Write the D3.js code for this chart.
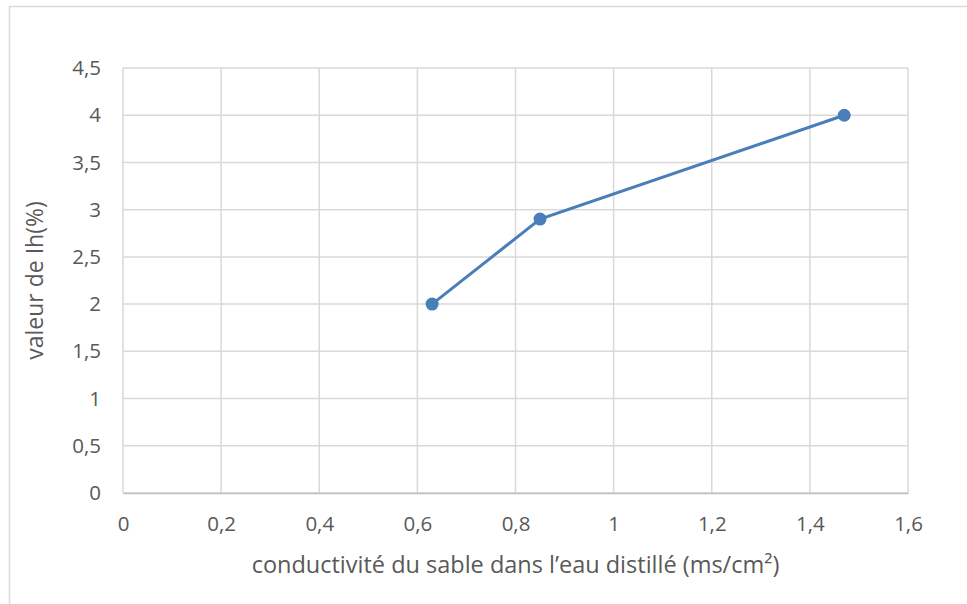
<!DOCTYPE html>
<html>
<head>
<meta charset="utf-8">
<script src="https://cdn.jsdelivr.net/npm/d3@7"></script>
<style>
  body { margin: 0; background: #fff; }
  svg { display: block; font-family: "Open Sans", "Noto Sans", sans-serif; }
</style>
</head>
<body>
<svg id="chart"></svg>
<script>
// conductivité vs Ih
const xValues = [0.63, 0.85, 1.47]
const yValues = [2, 2.9, 4]
const xTicks = [0, 0.2, 0.4, 0.6, 0.8, 1, 1.2, 1.4, 1.6]
const yTicks = [0, 0.5, 1, 1.5, 2, 2.5, 3, 3.5, 4, 4.5]
const xTitle = "conductivité du sable dans l’eau distillé (ms/cm²)"
const yTitle = "valeur de Ih(%)"

let svgWidth = 967
let svgHeight = 604
let margin = { left: 123, top: 68, right: 59, bottom: 111 }
let chartWidth = svgWidth - margin.left - margin.right
let chartHeight = svgHeight - margin.top - margin.bottom

const fmt = d => String(d).replace(".", ",")
const points = xValues.map((x, i) => ({ x: x, y: yValues[i] }))

const svg = d3.select("#chart")
    .attr("width", svgWidth)
    .attr("height", svgHeight)

// cadre extérieur
svg.append("rect")
    .attr("x", 9.5).attr("y", 6.5)
    .attr("width", 980).attr("height", 620)
    .attr("fill", "none")
    .attr("stroke", "#d9d9d9")
    .attr("stroke-width", 1.5)

const g = svg.append("g")
    .attr("transform", `translate(${margin.left}, ${margin.top})`)

var x = d3.scaleLinear().domain([0, 1.6]).range([0, chartWidth])
var y = d3.scaleLinear().domain([0, 4.5]).range([chartHeight, 0])

// grille
g.append("g")
    .selectAll("line")
    .data(xTicks)
    .enter().append("line")
    .attr("x1", d => x(d)).attr("x2", d => x(d))
    .attr("y1", 0).attr("y2", chartHeight)
    .attr("stroke", "#d9d9d9").attr("stroke-width", 1.5)

g.append("g")
    .selectAll("line")
    .data(yTicks)
    .enter().append("line")
    .attr("x1", 0).attr("x2", chartWidth)
    .attr("y1", d => y(d)).attr("y2", d => y(d))
    .attr("stroke", "#d9d9d9").attr("stroke-width", 1.5)

// axes
var xAxis = g.append("g")
    .attr("transform", `translate(0, ${chartHeight})`)
    .call(d3.axisBottom(x).tickValues(xTicks).tickFormat(fmt).tickSize(0).tickPadding(23))
xAxis.select(".domain").attr("stroke", "#bfbfbf").attr("stroke-width", 1.5)

var yAxis = g.append("g")
    .call(d3.axisLeft(y).tickValues(yTicks).tickFormat(fmt).tickSize(0).tickPadding(22))
yAxis.select(".domain").remove()

svg.selectAll(".tick text")
    .attr("fill", "#595959")
    .style("font-family", "'Open Sans', sans-serif")
    .style("font-size", "20.5px")

// ligne + points
g.append("path")
    .datum(points)
    .attr("fill", "none")
    .attr("stroke", "#4a7ebb")
    .attr("stroke-width", 3)
    .attr("d", d3.line().x(d => x(d.x)).y(d => y(d.y)))

g.selectAll("circle")
    .data(points)
    .enter().append("circle")
    .attr("cx", d => x(d.x))
    .attr("cy", d => y(d.y))
    .attr("r", 6.5)
    .attr("fill", "#4a7ebb")

// titres
svg.append("text")
    .attr("x", margin.left + chartWidth / 2 + 0)
    .attr("y", 573)
    .attr("text-anchor", "middle")
    .attr("fill", "#595959")
    .style("font-size", "23.5px")
    .text(xTitle)

svg.append("text")
    .attr("transform", `translate(43, ${margin.top + chartHeight / 2}) rotate(-90)`)
    .attr("text-anchor", "middle")
    .attr("fill", "#595959")
    .style("font-size", "23px")
    .text(yTitle)
</script>
</body>
</html>
